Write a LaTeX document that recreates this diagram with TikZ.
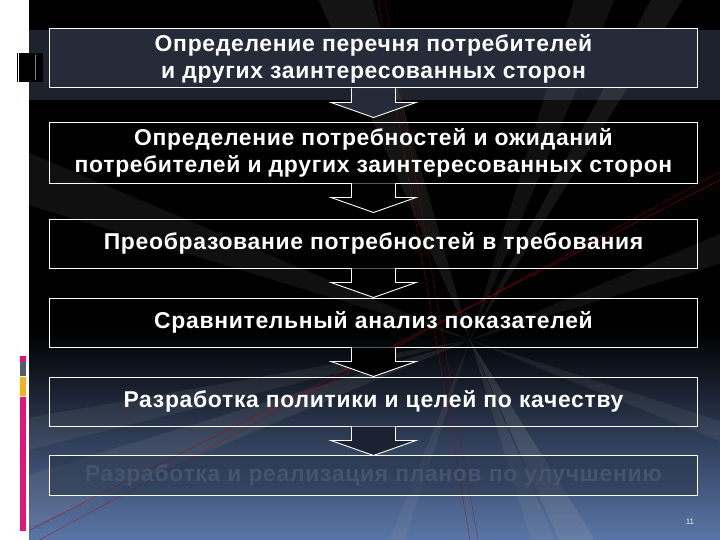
\documentclass[tikz,border=0pt]{standalone}
\usepackage{fontspec}
\setmainfont{Liberation Sans}
\newfontfamily\stagefont[LetterSpace=3]{Liberation Sans}
\definecolor{slidepink}{HTML}{E0157A}
\definecolor{slidegray}{HTML}{4F5F6B}
\definecolor{slideyellow}{HTML}{F2B21A}
\definecolor{slideblue}{HTML}{5A76A8}
\definecolor{bandgray}{HTML}{262B39}
\definecolor{fadedtext}{HTML}{465370}
\tikzset{
  stagebox/.style={draw=white, line width=1pt, minimum width=647bp, align=center,
    font=\stagefont\bfseries\fontsize{23}{27}\selectfont, text=white, inner sep=0pt},
  stagearrow/.style={draw=white, line width=0.9pt, fill=#1},
  stagearrow/.default=black
}

\begin{document}
\begin{tikzpicture}[x=1bp, y=-1bp]
\useasboundingbox (0,0) rectangle (720,540);
% slide background
\fill[white] (0,0) rectangle (29,540);
\fill[black] (29,0) rectangle (720,540);
\shade[top color=black, bottom color=slideblue] (29,330) rectangle (720,540);
\fill[bandgray, opacity=0.8] (29,30) rectangle (720,100);

% rays
\begin{scope}
\clip (29,0) rectangle (720,540);
\foreach \a/\w/\o in {62/4/0.18, 70/3/0.12, 110/2/0.10, 160/3/0.12, 168/2/0.10,
  200/3/0.10, 250/4/0.12, 290/3/0.10, 300/2/0.12, 340/3/0.10, 20/2/0.10}
  \fill[gray!70, opacity=\o] (470,340) -- ++(\a-\w:900) -- ++(\a+\w+90:{2*900*sin(\w)}) -- cycle;
\draw[red!70!black, opacity=0.6, line width=0.6pt] (20,535) -- (720,180);
\draw[red!70!black, opacity=0.5, line width=0.6pt] (30,545) -- (720,172);
\draw[red!70!black, opacity=0.5, line width=0.6pt] (378,0) -- (470,540);
\draw[red!70!black, opacity=0.4, line width=0.6pt] (385,0) -- (478,540);
\end{scope}

% left marks
\fill[black] (17,53) rectangle (43,82);
\draw[white, line width=0.6pt] (18,53) -- (18,82);
\draw[gray, line width=0.5pt] (35,55) -- (35,80);
\fill[slidepink] (20,356) rectangle (26,362);
\fill[slidegray] (20,362) rectangle (26,376);
\fill[slideyellow] (20,377) rectangle (26,396);
\fill[slidepink] (20,397) rectangle (26,531);

% stages
\node[stagebox, fill=bandgray, minimum height=59bp] (s1) at (373.5,58.5)
  {Определение перечня потребителей\\и других заинтересованных сторон};
\node[stagebox, minimum height=60bp] (s2) at (373.5,153)
  {Определение потребностей и ожиданий\\потребителей и других заинтересованных сторон};
\node[stagebox, minimum height=49bp] (s3) at (373.5,243.5)
  {Преобразование потребностей в требования};
\node[stagebox, minimum height=49bp] (s4) at (373.5,322.5)
  {Сравнительный анализ показателей};
\node[stagebox, minimum height=49bp] (s5) at (373.5,401.5)
  {Разработка политики и целей по качеству};
\node[stagebox, fill=slideblue!40!black, fill opacity=0.5, text opacity=1,
  text=fadedtext, minimum height=40bp] (s6) at (373.5,475)
  {Разработка и реализация планов по улучшению};

% arrows between stages
\foreach \from/\col in {s1/bandgray, s2/black, s3/black, s4/black, s5/black!70!slideblue}
  \path[stagearrow=\col] ([xshift=-22bp]\from.south) -- ++(0,14) -- ++(-20.5,0)
    -- ++(42.5,15) -- ++(42.5,-15) -- ++(-20.5,0) -- ++(0,-14);

\node[text=white!85!gray, font=\fontsize{8}{9}\selectfont] (pnum) at (690,522) {11};
\end{tikzpicture}
\end{document}
